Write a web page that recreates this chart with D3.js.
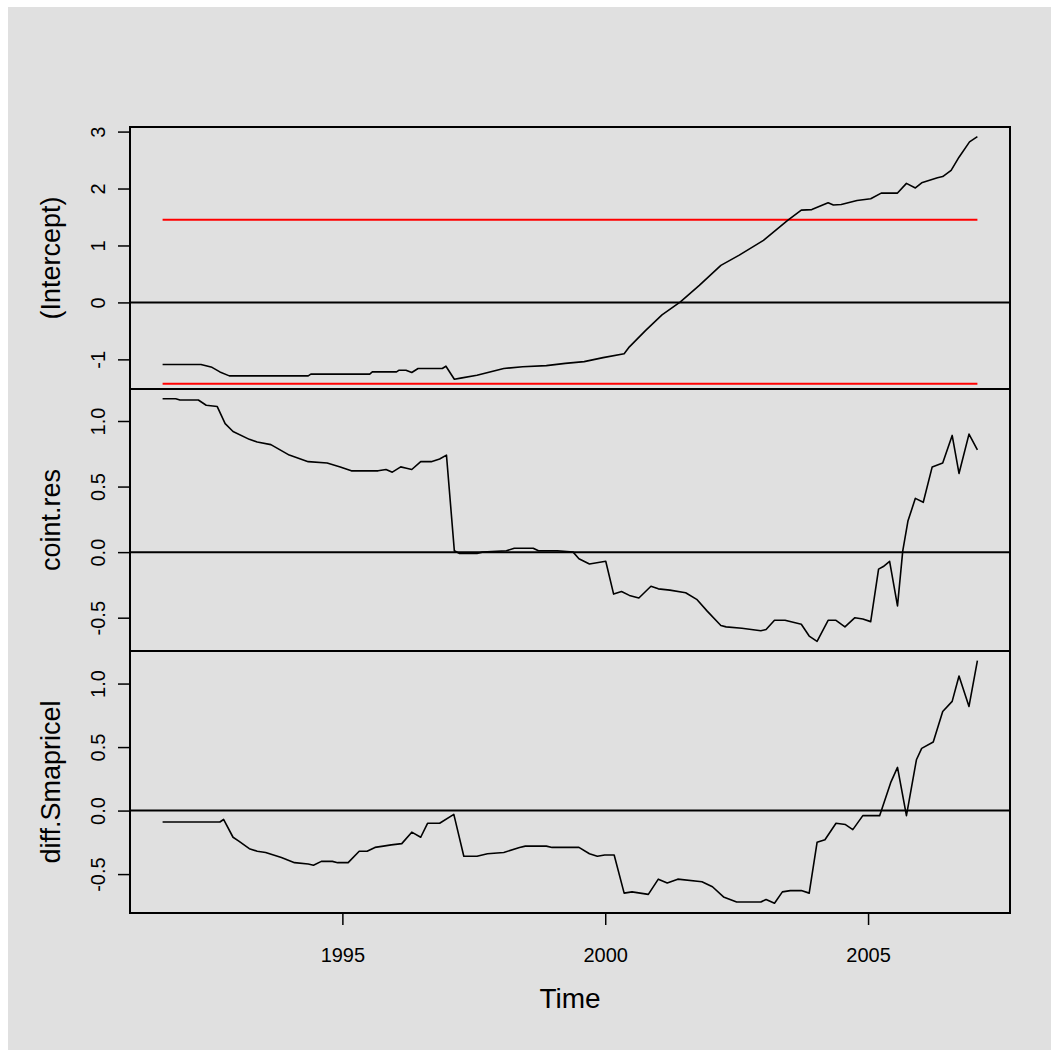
<!DOCTYPE html>
<html>
<head>
<meta charset="utf-8">
<script src="https://cdn.jsdelivr.net/npm/d3@7"></script>
<style>
body { margin: 0; background: #fff; }
svg { display: block; font-family: "Liberation Sans", Arial, sans-serif; }
</style>
</head>
<body>
<svg id="chart"></svg>
<script>
// series (time in years, value)
const interceptTime = [1991.58, 1992.31, 1992.52, 1992.67, 1992.85, 1994.35, 1994.40, 1995.52, 1995.57, 1996.03,
    1996.08, 1996.21, 1996.32, 1996.44, 1996.90, 1996.97, 1997.13, 1997.25, 1997.56, 1998.07,
    1998.43, 1998.88, 1999.24, 1999.60, 1999.96, 2000.36, 2000.46, 2000.77, 2001.08, 2001.43,
    2001.79, 2002.20, 2002.55, 2003.01, 2003.47, 2003.73, 2003.93, 2004.24, 2004.34, 2004.49,
    2004.79, 2005.05, 2005.25, 2005.56, 2005.73, 2005.90, 2006.02, 2006.32, 2006.42, 2006.58,
    2006.73, 2006.93, 2007.08];
const interceptVal = [-1.09, -1.09, -1.14, -1.22, -1.29, -1.29, -1.26, -1.26, -1.22, -1.22,
    -1.19, -1.19, -1.23, -1.16, -1.16, -1.12, -1.35, -1.33, -1.28, -1.16,
    -1.13, -1.11, -1.07, -1.04, -0.97, -0.90, -0.78, -0.49, -0.22, 0.01,
    0.30, 0.65, 0.83, 1.09, 1.44, 1.62, 1.63, 1.75, 1.71, 1.72,
    1.79, 1.82, 1.92, 1.92, 2.09, 2.01, 2.10, 2.19, 2.21, 2.32,
    2.55, 2.82, 2.91];

const cointTime = [1991.58, 1991.83, 1991.91, 1992.26, 1992.41, 1992.62, 1992.77, 1992.92, 1993.23, 1993.38,
    1993.64, 1993.99, 1994.35, 1994.71, 1994.96, 1995.17, 1995.68, 1995.83, 1995.95, 1996.11,
    1996.22, 1996.32, 1996.49, 1996.69, 1996.85, 1996.98, 1997.13, 1997.23, 1997.56, 1997.66,
    1998.12, 1998.27, 1998.63, 1998.73, 1998.94, 1999.09, 1999.39, 1999.50, 1999.70, 2000.01,
    2000.16, 2000.31, 2000.46, 2000.64, 2000.87, 2001.01, 2001.23, 2001.53, 2001.74, 2001.94,
    2002.20, 2002.30, 2002.60, 2002.96, 2003.06, 2003.22, 2003.42, 2003.73, 2003.88, 2004.03,
    2004.24, 2004.39, 2004.56, 2004.75, 2004.90, 2005.05, 2005.20, 2005.29, 2005.41, 2005.56,
    2005.66, 2005.76, 2005.90, 2006.05, 2006.22, 2006.42, 2006.60, 2006.73, 2006.92, 2007.08];
const cointVal = [1.17, 1.17, 1.16, 1.16, 1.12, 1.11, 0.98, 0.92, 0.86, 0.84,
    0.82, 0.74, 0.69, 0.68, 0.65, 0.62, 0.62, 0.63, 0.61, 0.65,
    0.64, 0.63, 0.69, 0.69, 0.71, 0.74, 0.01, -0.01, -0.01, 0.00,
    0.01, 0.03, 0.03, 0.01, 0.01, 0.01, 0.00, -0.05, -0.09, -0.07,
    -0.32, -0.30, -0.33, -0.35, -0.26, -0.28, -0.29, -0.31, -0.36, -0.45,
    -0.56, -0.57, -0.58, -0.60, -0.59, -0.52, -0.52, -0.55, -0.64, -0.68,
    -0.52, -0.52, -0.57, -0.50, -0.51, -0.53, -0.13, -0.11, -0.07, -0.41,
    0.01, 0.24, 0.41, 0.38, 0.65, 0.68, 0.89, 0.60, 0.90, 0.78];

const diffTime = [1991.58, 1992.67, 1992.74, 1992.92, 1993.03, 1993.23, 1993.38, 1993.54, 1993.69, 1993.84,
    1994.09, 1994.35, 1994.45, 1994.60, 1994.81, 1994.91, 1995.11, 1995.32, 1995.47, 1995.62,
    1995.78, 1995.93, 1996.13, 1996.32, 1996.49, 1996.62, 1996.85, 1997.12, 1997.31, 1997.56,
    1997.76, 1998.07, 1998.37, 1998.48, 1998.88, 1998.99, 1999.50, 1999.70, 1999.85, 1999.99,
    2000.17, 2000.36, 2000.51, 2000.82, 2001.01, 2001.18, 2001.38, 2001.84, 2002.04, 2002.25,
    2002.50, 2002.96, 2003.06, 2003.22, 2003.37, 2003.52, 2003.73, 2003.88, 2004.03, 2004.18,
    2004.39, 2004.57, 2004.71, 2004.90, 2005.22, 2005.43, 2005.56, 2005.73, 2005.92, 2006.02,
    2006.24, 2006.42, 2006.60, 2006.73, 2006.92, 2007.08];
const diffVal = [-0.09, -0.09, -0.07, -0.21, -0.24, -0.30, -0.32, -0.33, -0.35, -0.37,
    -0.41, -0.42, -0.43, -0.40, -0.40, -0.41, -0.41, -0.32, -0.32, -0.29,
    -0.28, -0.27, -0.26, -0.17, -0.21, -0.10, -0.10, -0.03, -0.36, -0.36,
    -0.34, -0.33, -0.29, -0.28, -0.28, -0.29, -0.29, -0.34, -0.36, -0.35,
    -0.35, -0.65, -0.64, -0.66, -0.54, -0.57, -0.54, -0.56, -0.60, -0.68,
    -0.72, -0.72, -0.70, -0.73, -0.64, -0.63, -0.63, -0.65, -0.25, -0.23,
    -0.10, -0.11, -0.15, -0.04, -0.04, 0.22, 0.34, -0.04, 0.40, 0.49,
    0.54, 0.78, 0.86, 1.06, 0.82, 1.18];

const boundaryVals = [1.45, -1.43];   // red lines, top panel only
const panelLabels = ["(Intercept)", "coint.res", "diff.Smapricel"];
const interceptTicks = [-1, 0, 1, 2, 3];
const smallTicks = [-0.5, 0, 0.5, 1];
const yearTicks = [1995, 2000, 2005];

const width = 1051, height = 1050;
const plotLeft = 130, plotRight = 1010, plotTop = 127, panelH = 262;

const svg = d3.select("#chart").attr("width", width).attr("height", height);
svg.append("rect").attr("x", 8).attr("y", 7)
    .attr("width", width - 8).attr("height", height - 7).attr("fill", "#e0e0e0");

// R style: pad data range by 4%
function padded(ext) {
    const r = ext[1] - ext[0];
    return [ext[0] - 0.04 * r, ext[1] + 0.04 * r];
}

const allTimes = interceptTime.concat(cointTime, diffTime);
const x = d3.scaleLinear().domain(padded(d3.extent(allTimes))).range([plotLeft, plotRight]);

const panels = [
    { time: interceptTime, val: interceptVal, ticks: interceptTicks, fmt: d => String(d) },
    { time: cointTime, val: cointVal, ticks: smallTicks, fmt: d => d.toFixed(1) },
    { time: diffTime, val: diffVal, ticks: smallTicks, fmt: d => d.toFixed(1) }
];

panels.forEach((p, i) => {
    const y0 = plotTop + i * panelH;
    const y = d3.scaleLinear().domain(padded(d3.extent(p.val))).range([y0 + panelH, y0]);
    const g = svg.append("g");

    // zero line
    g.append("line")
        .attr("x1", plotLeft).attr("x2", plotRight)
        .attr("y1", y(0)).attr("y2", y(0))
        .attr("stroke", "#000").attr("stroke-width", 2);

    if (i === 0) {
        g.selectAll(".bound")
            .data(boundaryVals)
            .enter()
            .append("line")
            .attr("x1", x(d3.min(p.time))).attr("x2", x(d3.max(p.time)))
            .attr("y1", d => y(d)).attr("y2", d => y(d))
            .attr("stroke", "#ff0000").attr("stroke-width", 2);
    }

    const line = d3.line().x(d => x(d[0])).y(d => y(d[1]));
    g.append("path")
        .datum(d3.zip(p.time, p.val))
        .attr("d", line)
        .attr("fill", "none")
        .attr("stroke", "#000")
        .attr("stroke-width", 1.6)
        .attr("stroke-linejoin", "round");

    // box
    g.append("rect")
        .attr("x", plotLeft).attr("y", y0)
        .attr("width", plotRight - plotLeft).attr("height", panelH)
        .attr("fill", "none").attr("stroke", "#000").attr("stroke-width", 2);

    // y axis, labels parallel to axis like R
    const ax = g.append("g")
        .attr("transform", "translate(" + plotLeft + ",0)")
        .call(d3.axisLeft(y).tickValues(p.ticks).tickSize(12).tickFormat(p.fmt));
    ax.select(".domain").remove();
    ax.selectAll("line").attr("stroke", "#000").attr("stroke-width", 1.5);
    ax.selectAll("text")
        .attr("x", null).attr("dy", null)
        .attr("text-anchor", "middle")
        .attr("transform", "translate(-25,0) rotate(-90)")
        .attr("fill", "#000")
        .style("font-size", "20px");

    g.append("text")
        .attr("transform", "translate(60," + (y0 + panelH / 2) + ") rotate(-90)")
        .attr("text-anchor", "middle")
        .style("font-size", "27px")
        .text(panelLabels[i]);
});

// x axis at the bottom
const plotBottom = plotTop + 3 * panelH;
const xa = svg.append("g")
    .attr("transform", "translate(0," + plotBottom + ")")
    .call(d3.axisBottom(x).tickValues(yearTicks).tickSize(12).tickFormat(d3.format("d")));
xa.select(".domain").remove();
xa.selectAll("line").attr("stroke", "#000").attr("stroke-width", 1.5);
xa.selectAll("text")
    .attr("y", 49).attr("dy", null)
    .attr("fill", "#000")
    .style("font-size", "20px");

svg.append("text")
    .attr("x", (plotLeft + plotRight) / 2)
    .attr("y", 1008)
    .attr("text-anchor", "middle")
    .style("font-size", "28px")
    .text("Time");
</script>
</body>
</html>
